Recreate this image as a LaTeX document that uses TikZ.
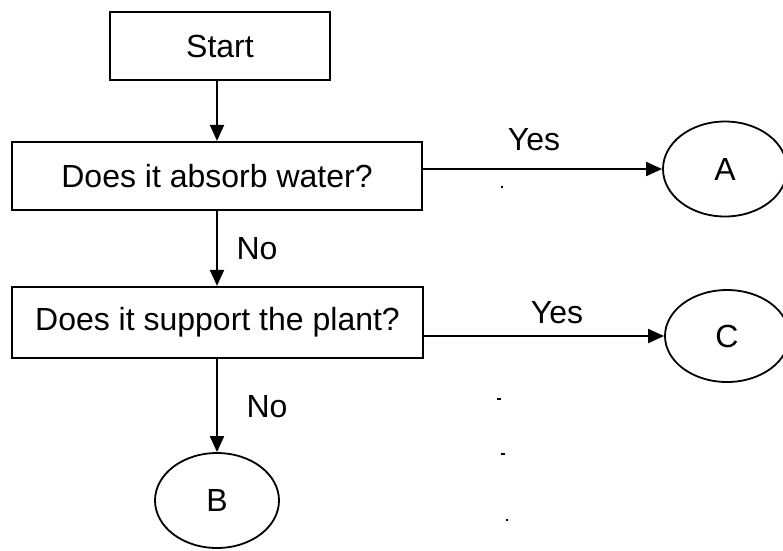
\documentclass[tikz,border=0pt]{standalone}
\usepackage{fontspec}
\setmainfont{Liberation Sans}
\usetikzlibrary{arrows.meta,shapes.geometric,calc}
\begin{document}
\begin{tikzpicture}[x=1pt,y=-1pt,
  every node/.style={font=\fontsize{32}{36}\selectfont},
  boxnode/.style={draw, line width=2.2pt, rectangle, inner sep=0pt},
  endnode/.style={draw, line width=1.8pt, ellipse, inner sep=0pt, minimum width=124pt, minimum height=95pt},
  lbl/.style={inner sep=0pt},
  flow/.style={line width=2pt, -{Triangle[length=16pt,width=14pt]}},
  speck/.style={line width=1.6pt}]
\useasboundingbox (0,0) rectangle (783,550);
\fill[white] (0,0) rectangle (783,550);
\node[boxnode, minimum width=220pt, minimum height=68pt] (start) at (220,46) {Start};
\node[boxnode, minimum width=410pt, minimum height=68pt] (q1) at (217,176) {Does it absorb water?};
\node[boxnode, minimum width=411pt, minimum height=71pt] (q2) at (217.5,322.5) {Does it support the plant?};
\node[endnode] (A) at (725,169) {A};
\node[endnode, minimum height=92pt] (C) at (727,336) {C};
\node[endnode] (B) at (217,500.5) {B};
\draw[flow] (q1.north |- start.south) -- (q1.north);
\draw[flow] (q1.south) -- (q2.north -| q1.south);
\draw[flow] (B.north |- q2.south) -- (B.north);
\draw[flow] (q1.east |- A.west) -- (A.west);
\draw[flow] (q2.east |- C.west) -- (C.west);
\node[lbl] (yes1) at (534,140) {Yes};
\node[lbl] (yes2) at (557,313) {Yes};
\node[lbl] (no1) at (257,249) {No};
\node[lbl] (no2) at (267,407) {No};
\coordinate (s1) at (502,187);
\coordinate (s2) at (499,399);
\coordinate (s3) at (503,454);
\coordinate (s4) at (507,520);
\draw[speck] ($(s1)+(-1,0)$) -- ($(s1)+(1,0)$);
\draw[speck] ($(s2)+(-2,0)$) -- ($(s2)+(2,0)$);
\draw[speck] ($(s3)+(-2,0)$) -- ($(s3)+(2,0)$);
\draw[speck] ($(s4)+(-1,0)$) -- ($(s4)+(1,0)$);
\end{tikzpicture}
\end{document}
